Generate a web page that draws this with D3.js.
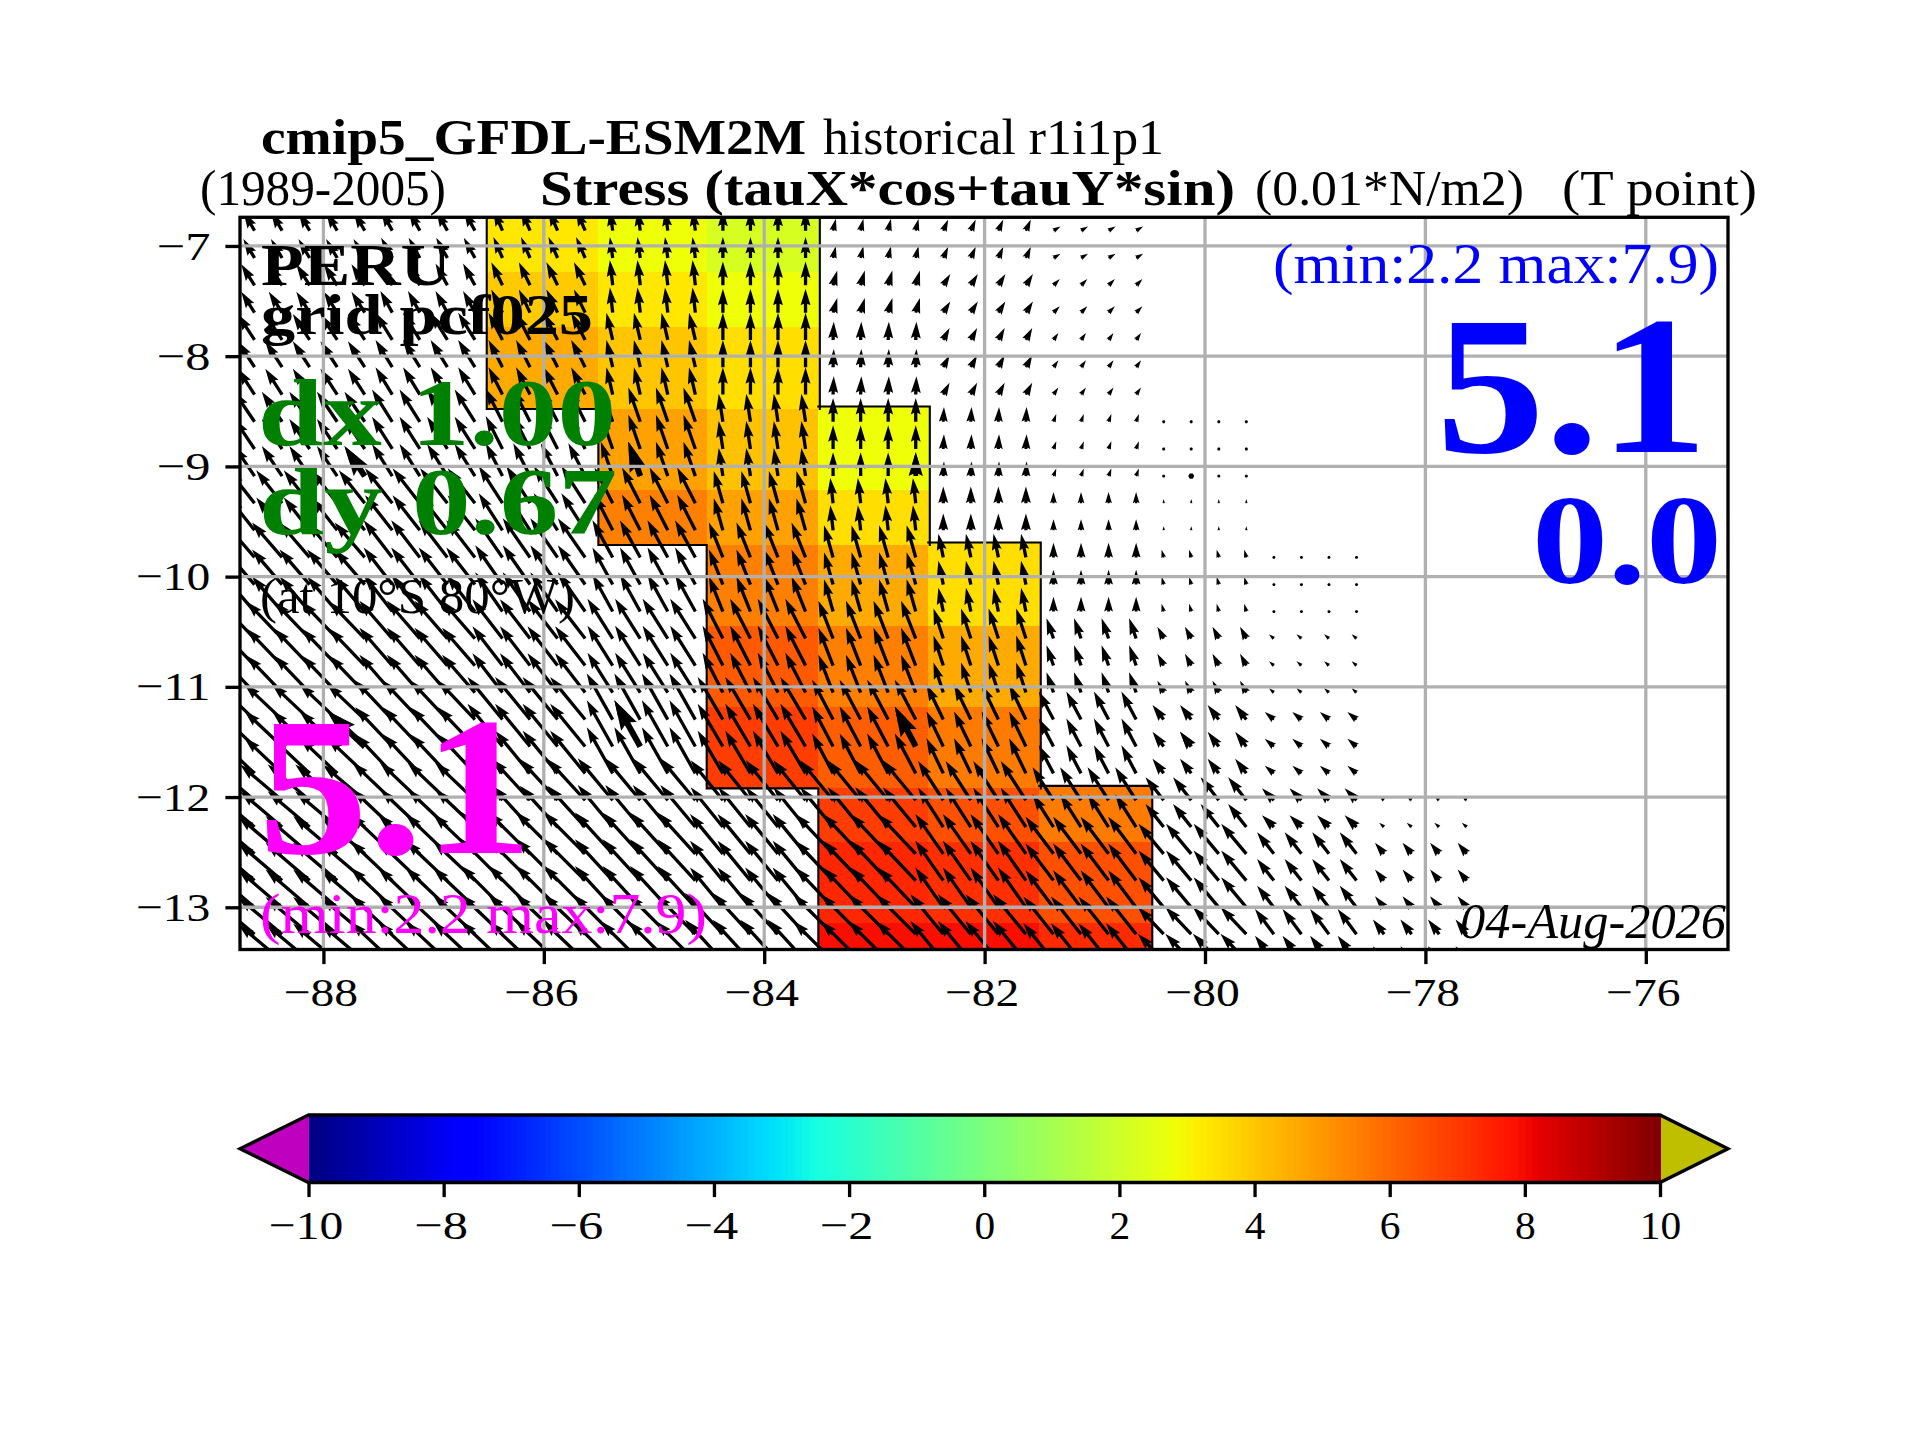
<!DOCTYPE html>
<html lang="en">
<head>
<meta charset="utf-8">
<title>cmip5 GFDL-ESM2M stress, Peru</title>
<script src="https://d3js.org/d3.v7.min.js"></script>
<style>
    body { margin: 0; background: #fff; }
    text { font-family: "Liberation Serif", serif; fill: #000; }
    .tick text { font-family: "Liberation Serif", serif; }
</style>
</head>
<body>
<script>
// axis ticks
const lonTicks = [-88, -86, -84, -82, -80, -78, -76];
const latTicks = [-7, -8, -9, -10, -11, -12, -13];
const barTicks = [-10, -8, -6, -4, -2, 0, 2, 4, 6, 8, 10];

// colour cells: 1 x 0.67 deg, stretched onto the 0.25 grid
const cellLonEdges = [-86.518, -85.505, -84.522, -83.509, -82.511, -81.504, -80.492];
const cellLatEdges = [-6.74, -7.233, -7.732, -8.479, -9.214, -9.713, -10.448, -11.183, -11.921, -12.406, -13.141, -13.38];
// one list per cell column, top row first
const cellValues = [
    [3.3, 3.9, 4.6, null, null, null, null, null, null, null, null],
    [2.8, 3.3, 4.0, 4.8, 5.5, null, null, null, null, null, null],
    [2.2, 2.8, 3.5, 4.1, 4.8, 5.5, 6.3, 6.9, null, null, null],
    [null, null, null, 2.8, 3.5, 4.6, 5.5, 6.2, 6.9, 7.4, 7.9],
    [null, null, null, null, null, 3.5, 4.6, 5.6, 6.5, 7.2, 7.9],
    [null, null, null, null, null, null, null, null, 5.6, 6.5, 7.3]
];

// arrow tails
const arrowLons = [-88.625, -88.375, -88.125, -87.875, -87.625, -87.375, -87.125, -86.875, -86.625,
    -86.375, -86.125, -85.875, -85.625, -85.375, -85.125, -84.875, -84.625, -84.375, -84.125, -83.875, -83.625,
    -83.375, -83.125, -82.875, -82.625, -82.375, -82.125, -81.875, -81.625, -81.375, -81.125, -80.875, -80.625,
    -80.375, -80.125, -79.875, -79.625, -79.375, -79.125, -78.875, -78.625, -78.375, -78.125, -77.875, -77.625];
const arrowLats = [-6.861, -7.109, -7.357, -7.605, -7.853, -8.1, -8.348, -8.595, -8.842, -9.088, -9.334, -9.58,
    -9.826, -10.072, -10.317, -10.562, -10.807, -11.052, -11.297, -11.541, -11.785, -12.029, -12.272, -12.515,
    -12.758, -13.001, -13.244, -13.487];
// arrows drawn a second time, twice as wide
const boldLons = [-87.625, -85.125, -82.625, -80.125];
const boldLats = [-9.088, -11.541];

// stress per 1 deg column, top row first (0.01 N/m2)
const arrowColEdges = [-88.5, -87.5, -86.5, -85.5, -84.5, -83.5, -82.5, -81.5, -80.5, -79.5, -78.5];
const tauU = [
    [-1.6, -1.9, -2.4, -2.9, -3.7, -4.3, -5.1, -5.4, -6.0, -6.3, -6.3],
    [-1.6, -1.9, -2.4, -2.9, -3.7, -4.3, -5.1, -5.4, -6.0, -6.3, -6.3],
    [-1.6, -1.7, -2.4, -2.9, -3.9, -4.1, -4.7, -5.3, -5.7, -6.0, -6.0],
    [-1.3, -1.6, -2.0, -2.4, -3.4, -3.9, -4.3, -5.0, -5.4, -6.0, -6.0],
    [-0.4, -0.4, -0.9, -1.7, -2.6, -2.9, -3.6, -3.7, -5.0, -5.4, -5.7],
    [0, 0, 0, -0.6, -1.3, -2.0, -2.9, -3.6, -4.6, -4.7, -5.4],
    [0.4, 0.6, 0.1, 0, -0.4, -1.3, -2.1, -3.0, -4.7, -5.4, -5.7],
    [0.7, 1.0, 0.9, 0.1, 0, -0.7, -1.4, -2.4, -3.6, -4.0, -4.7],
    [1.0, 0.9, 0.7, 0.4, 0, 0, -1.0, -2.1, -3.0, -4.0, -4.3],
    [null, null, null, 0, 0, -0.3, -0.9, -1.6, -2.6, -3.6, -3.7],
    [null, null, null, null, null, -0.4, -0.7, -1.3, -1.7, -2.4, -2.7],
    [null, null, null, null, null, null, null, null, -0.7, -1.3, -1.6]
];
const tauV = [
    [2.7, 3.0, 3.7, 4.3, 4.7, 5.0, 5.3, 5.1, 5.1, 5.4, 5.3],
    [2.7, 3.0, 3.7, 4.3, 4.7, 5.0, 5.3, 5.1, 5.1, 5.4, 5.3],
    [2.9, 3.1, 3.9, 4.6, 5.0, 5.3, 5.4, 5.6, 5.4, 5.7, 5.6],
    [3.0, 3.3, 3.9, 4.7, 5.3, 5.6, 5.6, 6.1, 5.9, 6.0, 5.7],
    [3.0, 3.6, 3.9, 4.9, 5.1, 5.3, 5.7, 6.6, 6.0, 5.9, 5.7],
    [3.0, 3.4, 3.9, 4.0, 4.6, 5.0, 5.7, 6.1, 5.7, 5.7, 5.9],
    [1.7, 2.1, 2.6, 3.4, 3.6, 4.6, 5.4, 5.7, 5.7, 5.7, 5.7],
    [1.6, 1.6, 1.7, 2.1, 2.4, 3.4, 4.3, 5.0, 5.6, 5.7, 5.7],
    [0.6, 0.9, 1.0, 1.1, 1.6, 2.1, 2.9, 4.0, 4.7, 5.3, 5.4],
    [null, null, null, 0.4, 0.6, 1.1, 1.7, 2.1, 3.3, 4.3, 3.9],
    [null, null, null, null, null, 0.2, 0.6, 1.1, 1.7, 3.1, 3.6],
    [null, null, null, null, null, null, null, null, 0.6, 1.6, 2.1]
];

// jet colormap stops
const jetR = d3.scaleLinear().domain([0, 0.35, 0.66, 0.89, 1]).range([0, 0, 1, 1, 0.5]);
const jetG = d3.scaleLinear().domain([0, 0.125, 0.375, 0.64, 0.91, 1]).range([0, 0, 1, 1, 0, 0]);
const jetB = d3.scaleLinear().domain([0, 0.11, 0.34, 0.65, 1]).range([0.5, 1, 1, 0, 0]);
const toUnit = d3.scaleLinear().domain([-10, 10]).range([0, 1]).clamp(true);
function jet(v) {
    const t = toUnit(v);
    return d3.rgb(jetR(t) * 255, jetG(t) * 255, jetB(t) * 255).formatHex();
}

// figure is 6.4x4.8in at 300 dpi, so 1pt = 300/72 px
const lw = 3.33;
const axLeft = 240, axRight = 1728, axTop = 217.3, axBottom = 949.5;
const barLeft = 308.5, barRight = 1660, barTop = 1115, barBottom = 1182.5;

const xScale = d3.scaleLinear().domain([-88.757, -75.254]).range([axLeft, axRight]);
const yScale = d3.scaleLinear().domain([-6.74, -13.383]).range([axTop, axBottom]);
const barX = d3.scaleLinear().domain([-10, 10]).range([barLeft, barRight]);

const svg = d3.select("body").append("svg")
    .attr("width", 1920)
    .attr("height", 1440)
    .style("display", "block");

svg.append("defs").append("clipPath").attr("id", "plot")
    .append("rect")
    .attr("x", axLeft).attr("y", axTop)
    .attr("width", axRight - axLeft).attr("height", axBottom - axTop);

const plot = svg.append("g").attr("clip-path", "url(#plot)");

// colour cells + mask outline
// the coast line sits a little outside the cells on its top and right sides
const coastTopShift = 2.5, coastRightShift = 1.5;
const hasCell = (a, b) => cellValues[a] && cellValues[a][b] !== undefined && cellValues[a][b] !== null;
const outline = d3.path();
cellValues.forEach((col, i) => {
    col.forEach((v, j) => {
        if (v === null) return;
        const openTop = j > 0 && !hasCell(i, j - 1);
        const openRight = !hasCell(i + 1, j);
        const x0 = xScale(cellLonEdges[i]);
        const x1 = xScale(cellLonEdges[i + 1]) + (openRight ? coastRightShift : 0);
        const y0 = yScale(cellLatEdges[j]) - (openTop ? coastTopShift : 0);
        const y1 = yScale(cellLatEdges[j + 1]);
        plot.append("rect")
            .attr("x", x0).attr("y", y0)
            .attr("width", x1 - x0).attr("height", y1 - y0)
            .attr("fill", jet(v))
            .attr("shape-rendering", "crispEdges");
        if (!hasCell(i - 1, j)) { outline.moveTo(x0, y0); outline.lineTo(x0, y1); }
        if (openRight) { outline.moveTo(x1, y0); outline.lineTo(x1, y1); }
        if (openTop) { outline.moveTo(x0, y0); outline.lineTo(x1, y0); }
        if (j < col.length - 1 && !hasCell(i, j + 1)) { outline.moveTo(x0, y1); outline.lineTo(x1, y1); }
    });
});
plot.append("path")
    .attr("d", outline.toString())
    .attr("fill", "none")
    .attr("stroke", "#000")
    .attr("stroke-width", 2.1)
    .attr("stroke-linecap", "square");

// quiver arrow polygon, same shape rules as matplotlib
const pxPerUnit = 7;
const arrowWidth = 3.3, boldWidth = 6;
function arrowPath(x0, y0, u, v, w) {
    const len = Math.hypot(u, v) * pxPerUnit;
    const pts = [];
    if (len < w) {
        // too short for a head: small hexagon
        d3.range(6).forEach(k => {
            const a = k * Math.PI / 3;
            pts.push([x0 + w / 2 * Math.cos(a), y0 + w / 2 * Math.sin(a)]);
        });
        return "M" + pts.join("L") + "Z";
    }
    const headL = 5 * w, headA = 4.5 * w, headW = 3 * w;
    const s = len < headL ? len / headL : 1;
    const l = Math.max(len, headL);
    const prof = [[0, w / 2], [l - headA, w / 2], [l - headL, headW / 2], [l, 0],
        [l - headL, -headW / 2], [l - headA, -w / 2], [0, -w / 2]];
    const ang = Math.atan2(-v, u);
    prof.forEach(p => {
        const px = p[0] * s, py = p[1] * s;
        pts.push([x0 + px * Math.cos(ang) - py * Math.sin(ang),
                  y0 + px * Math.sin(ang) + py * Math.cos(ang)]);
    });
    return "M" + pts.join("L") + "Z";
}

const latInner = cellLatEdges.slice(1, -1).map(d => -d);
function stressAt(lon, lat) {
    const c = d3.bisectLeft(arrowColEdges, lon);
    const r = d3.bisectLeft(latInner, -lat);
    if (c >= tauU.length || tauU[c][r] === null) return null;
    return [tauU[c][r], tauV[c][r]];
}

const arrowG = plot.append("g").attr("fill", "#000");
arrowLons.forEach(lon => {
    arrowLats.forEach(lat => {
        const t = stressAt(lon, lat);
        if (!t) return;
        arrowG.append("path").attr("d", arrowPath(xScale(lon), yScale(lat), t[0], t[1], arrowWidth));
    });
});
boldLons.forEach(lon => {
    boldLats.forEach(lat => {
        const t = stressAt(lon, lat);
        if (!t) return;
        arrowG.append("path").attr("d", arrowPath(xScale(lon), yScale(lat), t[0], t[1], boldWidth));
    });
});

// grid goes over the arrows here
const grid = svg.append("g").attr("stroke", "#b0b0b0").attr("stroke-width", lw);
lonTicks.forEach(d => {
    grid.append("line").attr("x1", xScale(d)).attr("x2", xScale(d)).attr("y1", axTop).attr("y2", axBottom);
});
latTicks.forEach(d => {
    grid.append("line").attr("x1", axLeft).attr("x2", axRight).attr("y1", yScale(d)).attr("y2", yScale(d));
});

// axes
const minus = d => (d < 0 ? "\u2212" + Math.abs(d) : "" + d);
const tickWidth = s => (s.startsWith("\u2212") ? 33 : 0) + (s.replace("\u2212", "").length) * 20.7;
function styleAxis(g, centred) {
    g.select(".domain").remove();
    g.selectAll(".tick line").attr("stroke", "#000").attr("stroke-width", lw);
    g.selectAll(".tick text")
        .attr("font-size", 41)
        .attr("fill", "#000")
        .attr("dx", d => (centred ? (d < 0 ? -3 : 0) : 0))
        .each(function (d) {
            d3.select(this)
                .attr("textLength", tickWidth(minus(d)))
                .attr("lengthAdjust", "spacingAndGlyphs");
        });
}

svg.append("g")
    .attr("transform", "translate(0," + axBottom + ")")
    .call(d3.axisBottom(xScale).tickValues(lonTicks).tickFormat(minus).tickSize(14.6).tickPadding(13))
    .call(styleAxis, true);
svg.append("g")
    .attr("transform", "translate(" + axLeft + ",0)")
    .call(d3.axisLeft(yScale).tickValues(latTicks).tickFormat(minus).tickSize(14.6).tickPadding(15))
    .call(styleAxis, false);

// labels: width in px is given so the lines end where the reference does
function label(str, px, py, size, opts) {
    const o = opts || {};
    const t = svg.append("text")
        .attr("x", px).attr("y", py)
        .attr("font-size", size)
        .attr("font-weight", o.bold ? "bold" : "normal")
        .attr("font-style", o.italic ? "italic" : "normal")
        .style("fill", o.color || "#000")
        .text(str);
    if (o.width) t.attr("textLength", o.width).attr("lengthAdjust", "spacingAndGlyphs");
    return t;
}

label("cmip5_GFDL-ESM2M", 261, 154, 50, { bold: true, width: 545 });
label("historical r1i1p1", 823, 154, 50, { width: 341 });
label("(1989-2005)", 200, 205, 50, { width: 246 });
label("Stress (tauX*cos+tauY*sin)", 540, 205, 50, { bold: true, width: 695 });
label("(0.01*N/m2)", 1255, 205, 50, { width: 269 });
label("(T point)", 1562, 205, 50, { width: 195 });

label("PERU", 261, 285, 60, { bold: true, width: 190 });
label("grid pcf025", 261, 334, 58, { bold: true, width: 332 });
label("dx 1.00", 258, 445, 96, { bold: true, color: "#008000", width: 358 });
label("dy 0.67", 259, 534, 96, { bold: true, color: "#008000", width: 358 });
label("(at 10\u00b0S 80\u00b0W)", 260, 613, 50, { width: 315 });
label("5.1", 258, 853, 198, { bold: true, color: "#ff00ff", width: 275 });
label("(min:2.2 max:7.9)", 260, 933, 58, { color: "#ff00ff", width: 447 });
label("(min:2.2 max:7.9)", 1273, 283, 58, { color: "#0000ff", width: 446 });
label("5.1", 1436, 452, 198, { bold: true, color: "#0000ff", width: 272 });
label("0.0", 1532, 583, 128, { bold: true, color: "#0000ff", width: 190 });
label("04-Aug-2026", 1460, 938, 50, { italic: true, width: 266 });

// frame
svg.append("rect")
    .attr("x", axLeft).attr("y", axTop)
    .attr("width", axRight - axLeft).attr("height", axBottom - axTop)
    .attr("fill", "none").attr("stroke", "#000").attr("stroke-width", lw);

// colorbar: extension triangles first so the bar covers their inner edge
const barMid = (barTop + barBottom) / 2;
svg.append("path")
    .attr("d", d3.line()([[barLeft + 2, barTop], [axLeft, barMid], [barLeft + 2, barBottom]]) + "Z")
    .attr("fill", "#bf00bf");
svg.append("path")
    .attr("d", d3.line()([[barRight - 2, barTop], [axRight, barMid], [barRight - 2, barBottom]]) + "Z")
    .attr("fill", "#bfbf00");

const barSteps = d3.range(-10, 10, 0.1);
svg.append("g").selectAll("rect")
    .data(barSteps)
    .join("rect")
    .attr("x", d => barX(d))
    .attr("y", barTop)
    .attr("width", barX(0.1) - barX(0) + 0.5)
    .attr("height", barBottom - barTop)
    .attr("fill", d => jet(d + 0.05))
    .attr("shape-rendering", "crispEdges");

svg.append("path")
    .attr("d", d3.line()([[barLeft, barTop], [axLeft, barMid], [barLeft, barBottom], [barRight, barBottom],
        [axRight, barMid], [barRight, barTop]]) + "Z")
    .attr("fill", "none")
    .attr("stroke", "#000")
    .attr("stroke-width", lw)
    .attr("stroke-linejoin", "miter");

svg.append("g")
    .attr("transform", "translate(0," + barBottom + ")")
    .call(d3.axisBottom(barX).tickValues(barTicks).tickFormat(minus).tickSize(14.6).tickPadding(13))
    .call(styleAxis, true);
</script>
</body>
</html>
